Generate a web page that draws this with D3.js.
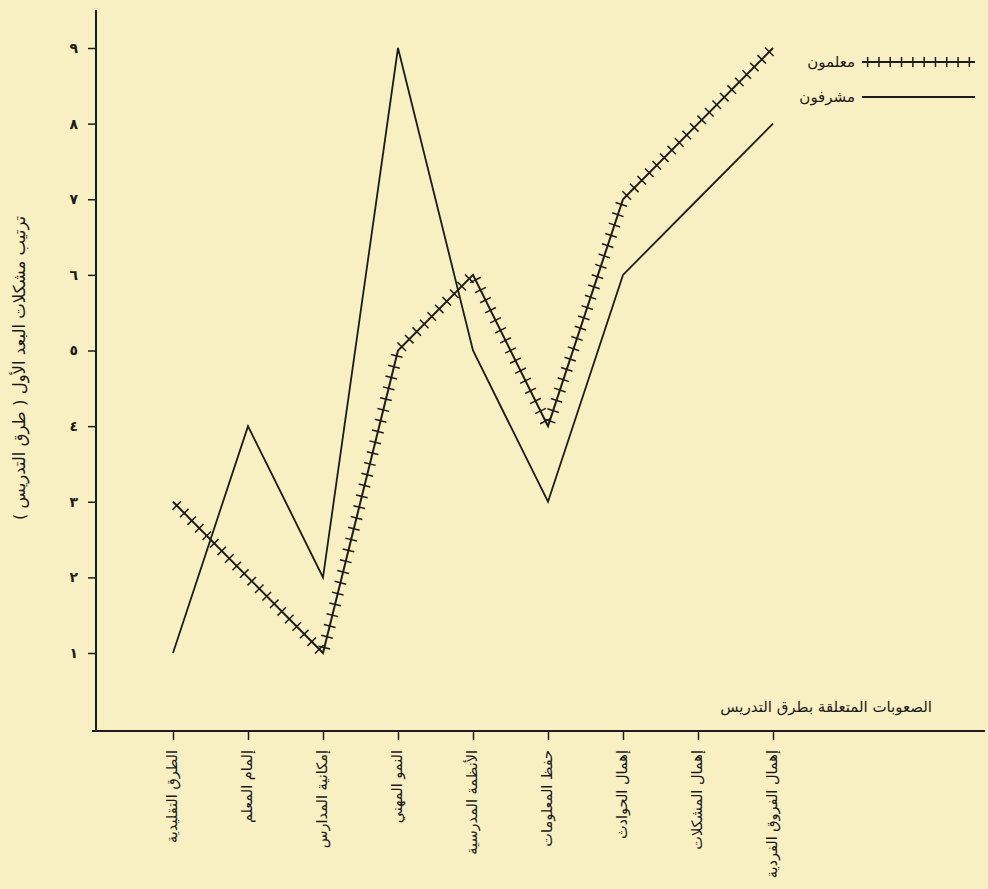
<!DOCTYPE html>
<html><head><meta charset="utf-8">
<script src="https://cdn.jsdelivr.net/npm/d3@7"></script>
<style>
html,body{margin:0;padding:0;background:#f8efc2;}
svg{display:block;}
text{font-family:"DejaVu Sans",sans-serif;fill:#1a1a1a;}
</style></head>
<body>
<svg id="c" width="988" height="889"></svg>
<script>
const categories = ["الطرق التقليدية","إلمام المعلم","إمكانية المدارس","النمو المهني","الأنظمة المدرسية","حفظ المعلومات","إهمال الحوادث","إهمال المشكلات","إهمال الفروق الفردية"];
const teachers = [3,2,1,5,6,4,7,8,9];
const supervisors = [1,4,2,9,5,3,6,7,8];
const tickValues = [1,2,3,4,5,6,7,8,9];
const tickLabels = ["١","٢","٣","٤","٥","٦","٧","٨","٩"];
const seriesNames = ["معلمون","مشرفون"];
const yTitle = "ترتيب مشكلات البعد الأول ( طرق التدريس )";
const xTitle = "الصعوبات المتعلقة بطرق التدريس";

const svg = d3.select("#c");
const ink = "#1c1c1c";
const x = d3.scalePoint().domain(categories).range([173,773]);
const y = d3.scaleLinear().domain([1,9]).range([653,48]);

// axes lines
svg.append("line").attr("x1",96).attr("x2",96).attr("y1",10).attr("y2",731).attr("stroke",ink).attr("stroke-width",2);
svg.append("line").attr("x1",92).attr("x2",985).attr("y1",731).attr("y2",731).attr("stroke",ink).attr("stroke-width",2);

const yAxis = d3.axisLeft(y).tickValues(tickValues).tickSize(8).tickPadding(10)
  .tickFormat((d,i)=>tickLabels[i]);
const gy = svg.append("g").attr("transform","translate(96,0)").call(yAxis);
gy.select(".domain").remove();
gy.selectAll(".tick line").attr("stroke",ink).attr("stroke-width",1.5);
gy.selectAll(".tick text").attr("font-size",14).attr("font-weight","bold").attr("font-family","DejaVu Sans").attr("fill",ink);

const xAxis = d3.axisBottom(x).tickSize(9).tickFormat("");
const gx = svg.append("g").attr("transform","translate(0,731)").call(xAxis);
gx.select(".domain").remove();
gx.selectAll(".tick line").attr("stroke",ink).attr("stroke-width",1.5);

// x labels (rotated)
svg.append("g").selectAll("text").data(categories).join("text")
  .attr("transform",d=>`translate(${x(d)},750) rotate(-90)`)
  .attr("text-anchor","end").attr("dominant-baseline","middle")
  .attr("font-size",14.5).text(d=>d);

// titles
svg.append("text").attr("transform","translate(20,368) rotate(-90)")
  .attr("text-anchor","middle").attr("dominant-baseline","middle")
  .attr("font-size",16.5).text(yTitle);
svg.append("text").attr("x",932).attr("y",712).attr("text-anchor","end")
  .attr("font-size",15).text(xTitle);

const line = d3.line().x((d,i)=>x(categories[i])).y(d=>y(d));

// supervisors plain line
svg.append("path").datum(supervisors).attr("d",line).attr("fill","none").attr("stroke",ink).attr("stroke-width",1.8);

// teachers hatched line
function hatched(g, pts, spacing, half){
  g.append("path").attr("d",d3.line()(pts)).attr("fill","none").attr("stroke",ink).attr("stroke-width",2);
  const ticks=[];
  for(let k=0;k<pts.length-1;k++){
    const [x0,y0]=pts[k],[x1,y1]=pts[k+1];
    const L=Math.hypot(x1-x0,y1-y0); const ux=(x1-x0)/L, uy=(y1-y0)/L;
    const n=Math.max(1,Math.round(L/spacing));
    for(let j=1;j<=n;j++){
      const t=(j-0.5)*L/n;
      const cx=x0+ux*t, cy=y0+uy*t;
      ticks.push([cx-uy*half,cy+ux*half,cx+uy*half,cy-ux*half]);
    }
  }
  g.selectAll("line.h").data(ticks).join("line").attr("class","h")
    .attr("x1",d=>d[0]).attr("y1",d=>d[1]).attr("x2",d=>d[2]).attr("y2",d=>d[3])
    .attr("stroke",ink).attr("stroke-width",1.5);
}
const tPts = teachers.map((v,i)=>[x(categories[i]),y(v)]);
hatched(svg.append("g"), tPts, 11, 6);

// legend
const lg = svg.append("g");
hatched(lg, [[862,62],[975,62]], 11, 5);
lg.append("text").attr("x",855).attr("y",62).attr("text-anchor","end").attr("dominant-baseline","middle").attr("font-size",15).text(seriesNames[0]);
lg.append("line").attr("x1",862).attr("x2",975).attr("y1",97).attr("y2",97).attr("stroke",ink).attr("stroke-width",1.8);
lg.append("text").attr("x",855).attr("y",97).attr("text-anchor","end").attr("dominant-baseline","middle").attr("font-size",15).text(seriesNames[1]);
</script>
</body></html>
